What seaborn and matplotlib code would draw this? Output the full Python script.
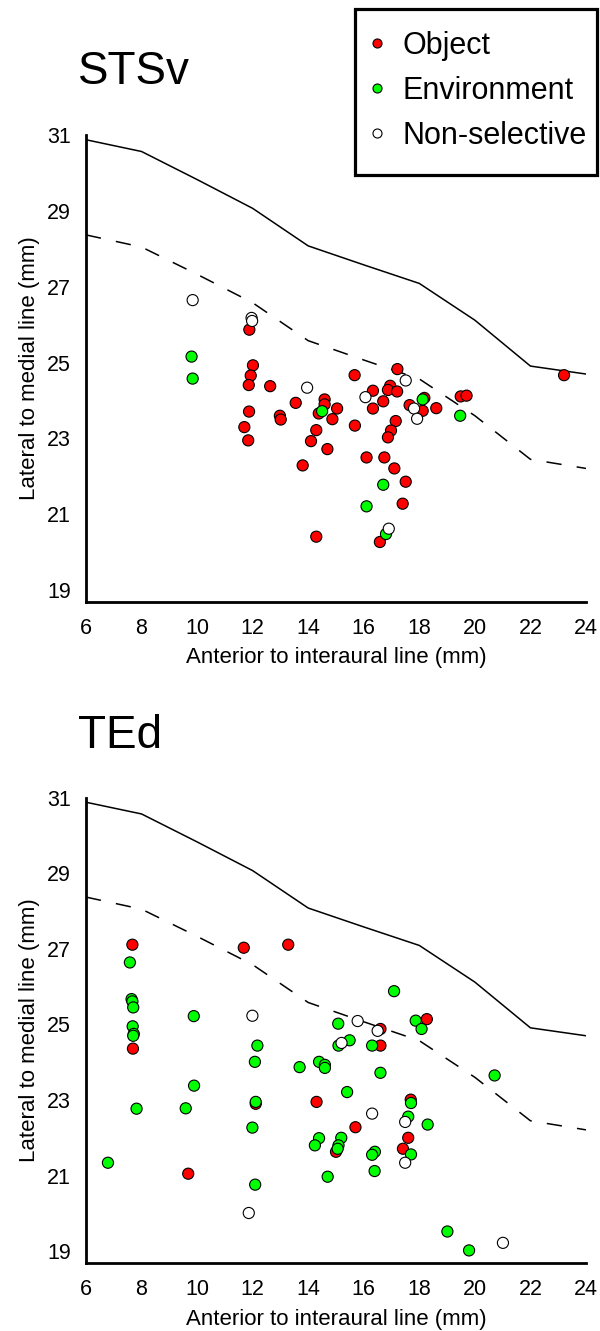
import numpy as np
import pandas as pd
import matplotlib
matplotlib.use("Agg")
import matplotlib.pyplot as plt
from matplotlib.lines import Line2D
from matplotlib.patches import Rectangle
import seaborn as sns

# ---------------- data ----------------
categories = ["Object", "Environment", "Non-selective"]
colors = {"Object": "#ff0000", "Environment": "#00ff00", "Non-selective": "#ffffff"}

# boundary lines (same in both panels)
bound_x = [6, 8, 10, 12, 14, 16, 18, 20, 22, 24]
solid_y = [30.88, 30.57, 29.83, 29.07, 28.08, 27.58, 27.09, 26.12, 24.91, 24.70]
dash_x = [6, 8, 10, 12, 14, 16, 18, 20, 22, 24]
dash_y = [28.37, 28.05, 27.33, 26.58, 25.58, 25.07, 24.57, 23.60, 22.45, 22.21]

# STSv
stsv_obj_x = [11.88, 12.01, 11.93, 11.86, 12.63, 13.55, 14.59, 14.59, 14.38, 15.04, 14.87, 11.87,
              12.98, 13.01, 11.70, 11.84, 14.29, 14.10, 14.69, 13.80, 14.29,
              15.67, 17.21, 16.33, 16.95, 16.87, 17.20, 16.70, 16.33, 17.65, 18.12, 18.18, 18.61,
              19.49, 19.70, 23.21, 15.68, 17.15, 16.98, 16.87, 16.10, 16.74, 17.10, 17.51, 17.40, 16.58]
stsv_obj_y = [25.87, 24.93, 24.66, 24.41, 24.38, 23.94, 24.03, 23.90, 23.66, 23.79, 23.51, 23.71,
              23.60, 23.50, 23.30, 22.95, 23.22, 22.93, 22.72, 22.29, 20.41,
              24.67, 24.83, 24.26, 24.39, 24.28, 24.24, 23.98, 23.79, 23.88, 23.73, 24.07, 23.80,
              24.11, 24.13, 24.67, 23.34, 23.46, 23.21, 23.03, 22.50, 22.50, 22.21, 21.86, 21.28, 20.27]
stsv_env_x = [9.80, 9.84, 14.50, 18.12, 19.47, 16.70, 16.10, 16.80]
stsv_env_y = [25.16, 24.58, 23.72, 24.03, 23.60, 21.78, 21.21, 20.48]
stsv_non_x = [9.84, 11.96, 11.98, 13.96, 17.51, 16.06, 17.81, 17.92, 16.90]
stsv_non_y = [26.65, 26.18, 26.10, 24.34, 24.53, 24.09, 23.79, 23.52, 20.62]

# TEd
ted_obj_x = [7.67, 7.69, 9.68, 11.68, 13.28, 12.11, 16.60, 18.27, 16.60, 14.30, 17.69, 15.70,
             17.60, 15.00, 17.41]
ted_obj_y = [27.11, 24.36, 21.05, 27.03, 27.11, 22.90, 24.88, 25.14, 24.44, 22.95, 23.01, 22.28,
             22.00, 21.63, 21.71]
ted_env_x = [7.58, 7.64, 7.67, 7.70, 7.68, 7.72, 7.70, 9.88, 9.89, 7.82, 9.59, 6.79, 12.17, 12.08,
             12.11, 11.99, 12.09, 17.09, 15.08, 17.87, 18.08, 15.09, 15.49, 16.30, 13.69,
             14.39, 14.60, 14.60, 16.60, 20.71, 15.40, 17.70, 17.60, 18.30, 14.39, 14.24, 15.19,
             15.09, 15.06, 17.70, 16.40, 16.30, 16.39, 14.70, 19.01, 19.79]
ted_env_y = [26.64, 25.67, 25.61, 25.45, 24.95, 24.75, 24.70, 25.22, 23.38, 22.77, 22.78, 21.34, 24.44, 24.01,
             22.95, 22.27, 20.76, 25.88, 25.02, 25.10, 24.88, 24.44, 24.58, 24.44, 23.87,
             24.01, 23.93, 23.85, 23.72, 23.65, 23.21, 22.92, 22.56, 22.35, 21.99, 21.80, 22.00,
             21.80, 21.71, 21.56, 21.63, 21.55, 21.12, 20.97, 19.52, 19.02]
ted_non_x = [11.99, 11.86, 15.78, 16.50, 16.30, 17.49, 17.49, 21.01, 15.20]
ted_non_y = [25.23, 20.01, 25.09, 24.83, 22.64, 22.42, 21.34, 19.22, 24.51]

x_ticks = [6, 8, 10, 12, 14, 16, 18, 20, 22, 24]
y_ticks = [19, 21, 23, 25, 27, 29, 31]
xlabel = "Anterior to interaural line (mm)"
ylabel = "Lateral to medial line (mm)"


def frame(ox, oy, ex, ey, nx, ny):
    parts = []
    for cat, xs, ys in zip(categories, [ox, ex, nx], [oy, ey, ny]):
        parts.append(pd.DataFrame({"x": xs, "y": ys, "type": cat}))
    return pd.concat(parts, ignore_index=True)


stsv_df = frame(stsv_obj_x, stsv_obj_y, stsv_env_x, stsv_env_y, stsv_non_x, stsv_non_y)
ted_df = frame(ted_obj_x, ted_obj_y, ted_env_x, ted_env_y, ted_non_x, ted_non_y)

# ---------------- style ----------------
sns.set_style("white")
plt.rcParams["font.family"] = ["Liberation Sans", "DejaVu Sans"]
plt.rcParams["text.color"] = "black"
plt.rcParams["axes.labelcolor"] = "black"
plt.rcParams["xtick.color"] = "black"
plt.rcParams["ytick.color"] = "black"

W, H = 600, 1331
fig = plt.figure(figsize=(W / 100, H / 100), dpi=100)


def px_axes(left, top, right, bottom):
    return fig.add_axes([left / W, 1 - bottom / H, (right - left) / W, (bottom - top) / H])


ax1 = px_axes(86, 135.2, 586, 601.5)
ax2 = px_axes(86, 797.7, 586, 1262.5)

for ax, df in [(ax1, stsv_df), (ax2, ted_df)]:
    sns.lineplot(x=bound_x, y=solid_y, color="black", linewidth=1.1, ax=ax)
    sns.lineplot(x=dash_x, y=dash_y, color="black", linewidth=1.1, linestyle=(0, (10, 10)), ax=ax)
    sns.scatterplot(data=df, x="x", y="y", hue="type", hue_order=categories, palette=colors,
                    s=64, edgecolor="black", linewidth=0.8, ax=ax, legend=False, zorder=3)
    ax.set_xlim(6, 24)
    ax.set_ylim(18.7, 31)
    ax.set_xticks(x_ticks)
    ax.set_yticks(y_ticks)
    for s in ["top", "right"]:
        ax.spines[s].set_visible(False)
    for s in ["left", "bottom"]:
        ax.spines[s].set_linewidth(2.0)
        ax.spines[s].set_color("black")
    ax.tick_params(axis="both", direction="out", length=4, width=1.5, colors="black",
                   labelsize=15.5, labelcolor="black")
    ax.tick_params(axis="y", pad=7)
    ax.tick_params(axis="x", pad=8)
    ax.set_xlabel(xlabel, fontsize=16, labelpad=6, color="black")
    ax.set_ylabel(ylabel, fontsize=16, labelpad=5, color="black")

fig.text(78 / W, 1 - 84 / H, "STSv", fontsize=33, ha="left", va="baseline", color="black")
fig.text(78 / W, 1 - 748 / H, "TEd", fontsize=33, ha="left", va="baseline", color="black")

# legend (entries) with a separately drawn box
handles = [Line2D([], [], linestyle="none", marker="o", markersize=6.5,
                  markerfacecolor=colors[c], markeredgecolor="black", markeredgewidth=0.8)
           for c in categories]
leg = fig.legend(handles, categories, loc="upper left",
                 bbox_to_anchor=(360 / W, 1 - 22 / H), fontsize=22,
                 frameon=False, borderpad=0.3, labelspacing=0.49,
                 handlelength=0.5, handletextpad=0.6, borderaxespad=0)
for t in leg.get_texts():
    t.set_color("black")

box_l, box_t, box_r, box_b = 355, 9, 597, 175
fig.patches.append(Rectangle((box_l / W, 1 - box_b / H), (box_r - box_l) / W, (box_b - box_t) / H,
                             transform=fig.transFigure, fill=False, edgecolor="black",
                             linewidth=2.3, zorder=5))

fig.savefig("out.png", dpi=100)
